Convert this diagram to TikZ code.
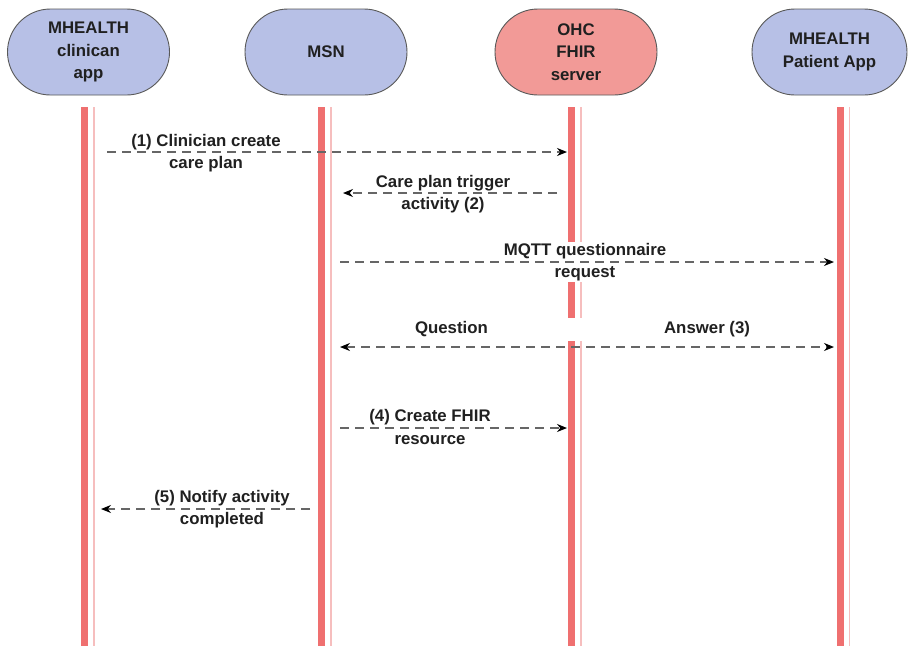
\documentclass[tikz,border=0pt]{standalone}
\usepackage{fontspec}
\setmainfont{Liberation Sans}
\usetikzlibrary{arrows.meta}

\definecolor{actorblue}{HTML}{B7C0E6}
\definecolor{actorred}{HTML}{F29A97}
\definecolor{lifered}{HTML}{EF7070}
\definecolor{lifepale}{HTML}{F6BEBE}
\definecolor{msggray}{HTML}{666666}
\definecolor{txt}{HTML}{202020}

\tikzset{
  x=1pt, y=-1pt,
  lbl/.style={font=\bfseries\fontsize{16.8}{22.5}\selectfont, text=txt, align=center},
  actor/.style={lbl, rectangle, rounded corners=43pt, draw=black!65, line width=0.9pt,
                minimum width=162pt, minimum height=86pt, inner sep=0pt},
  lifebar/.style={draw=lifered, line width=7pt},
  lifethin/.style={draw=lifepale, line width=1.1pt},
  msglabel/.style={lbl, fill=white, inner sep=1pt},
  tip/.style={},
  msg/.style={draw=msggray, line width=1.3pt, dash pattern=on 9pt off 6pt,
              -{Stealth[length=10pt, width=8pt, color=black]}},
  msgboth/.style={msg, {Stealth[length=10pt, width=8pt, color=black]}-{Stealth[length=10pt, width=8pt, color=black]}}
}

\begin{document}
\begin{tikzpicture}
  \useasboundingbox[fill=white] (0,0) rectangle (908,646);

  % participants
  \node[actor, fill=actorblue] (clin) at (88.5,52) {MHEALTH\\clinican\\app};
  \node[actor, fill=actorblue] (msn)  at (326,52)  {MSN};
  \node[actor, fill=actorred]  (ohc)  at (576,52)  {OHC\\FHIR\\server};
  \node[actor, fill=actorblue, minimum width=155pt] (pat) at (829.5,52) {MHEALTH\\Patient App};

  % lifeline end points
  \coordinate (clinT) at (84.5,107);  \coordinate (clinB) at (84.5,646);
  \coordinate (msnT)  at (321.5,107); \coordinate (msnB)  at (321.5,646);
  \coordinate (ohcT)  at (571.5,107); \coordinate (ohcB)  at (571.5,646);
  \coordinate (patT)  at (840,107);   \coordinate (patB)  at (840,646);

  % lifelines: thick bar with a thin pale rule beside it
  \foreach \p in {clin,msn,ohc,pat}{
    \draw[lifebar] (\p T) -- (\p B);
    \draw[lifethin] ([xshift=9.5pt]\p T) -- ([xshift=9.5pt]\p B);
  }

  % message end points
  \coordinate (m1s) at (107,152); \coordinate (m1e) at (567,152);
  \coordinate (m2s) at (557,193); \coordinate (m2e) at (343,193);
  \coordinate (m3s) at (340,262); \coordinate (m3e) at (834,262);
  \coordinate (m4s) at (340,347); \coordinate (m4e) at (834,347);
  \coordinate (m5s) at (340,428); \coordinate (m5e) at (567,428);
  \coordinate (m6s) at (310,509); \coordinate (m6e) at (101,509);

  % message labels
  \node[msglabel] (l1) at (206,153) {(1) Clinician create\\care plan};
  \node[msglabel] (l2) at (443,194) {Care plan trigger\\activity (2)};
  \node[msglabel] (l3) at (585,262) {MQTT questionnaire\\request};
  \node[msglabel, inner sep=0pt, minimum height=23pt] (l4) at (582.5,329)
       {\makebox[335pt]{Question\hfill Answer (3)}};
  \node[msglabel] (l5) at (430,427) {(4) Create FHIR\\resource};
  \node[msglabel] (l6) at (222,509) {(5) Notify activity\\completed};

  % messages
  \draw[msg] (m1s) -- (m1e);
  \draw[msg] (m2s) -- (m2e);
  \draw[msg] (m3s) -- (m3e);
  \draw[msgboth] (m4s) -- (m4e);
  \draw[msg] (m5s) -- (m5e);
  \draw[msg] (m6s) -- (m6e);
\end{tikzpicture}
\end{document}
